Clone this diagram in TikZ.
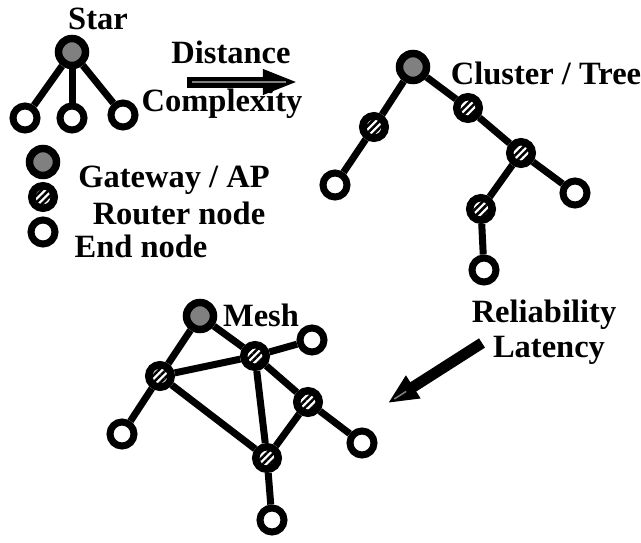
\documentclass[tikz,border=0pt]{standalone}
\usepackage{fontspec}
\setmainfont{Liberation Serif}
\usetikzlibrary{arrows.meta,patterns.meta}
\tikzset{
  gw/.style={circle,draw,line width=1.5mm,fill=gray,minimum size=5.4mm,inner sep=0pt},
  rt/.style={circle,draw,line width=1.5mm,minimum size=4.5mm,inner sep=0pt,
    pattern={Lines[angle=45,distance=1mm,line width=0.5mm]}},
  en/.style={circle,draw,line width=1.4mm,fill=white,minimum size=4.8mm,inner sep=0pt},
  lbl/.style={font=\bfseries\fontsize{18.5}{20}\selectfont,inner sep=0pt},
  link/.style={line width=1.4mm}
}
\begin{document}
\begin{tikzpicture}[x=0.2mm,y=-0.2mm]
  \useasboundingbox (0,0) rectangle (641,543);
  \node[lbl] (tstar) at (98,19) {Star};
  \node[gw] (sg) at (72,52) {};
  \foreach \n/\x/\y in {1/25/118,2/72/118,3/123/115}{
    \node[en] (se\n) at (\x,\y) {};
    \draw[link] (sg) -- (se\n);};
  \node[gw] (lg) at (43,162) {}; \node[lbl] (tlg) at (174,180) {Gateway / AP};
  \node[rt] (lr) at (43,197) {}; \node[lbl] (tlr) at (179,213) {Router node};
  \node[en] (le) at (43,232) {}; \node[lbl] (tle) at (141,246) {End node};
  \node[lbl] (tdist) at (231,52) {Distance};
  \node[lbl] (tcomp) at (222,104) {Complexity};
  \coordinate (d1) at (187,82); \coordinate (d2) at (298,82);
  \draw[line width=2.2mm,-{Triangle[length=7mm,width=4.6mm]}] (d1) -- (d2);
  \draw[gray,line width=0.3mm,shorten <=1mm,shorten >=2.5mm] (d1) -- (d2);
  \node[lbl] (ttree) at (546,73) {Cluster / Tree};
  \node[gw] (tg) at (413,67) {};
  \foreach \n/\x/\y in {1/374/127,2/468/108,3/521/153,4/481/209}
    \node[rt] (tr\n) at (\x,\y) {};
  \foreach \n/\x/\y in {1/335/185,2/575/193,3/484/270}
    \node[en] (te\n) at (\x,\y) {};
  \foreach \a/\b in {tg/tr1,tr1/te1,tg/tr2,tr2/tr3,tr3/te2,tr3/tr4,tr4/te3}
    \draw[link] (\a) -- (\b);
  \node[gw] (mg) at (200,316) {}; \node[lbl] (tmesh) at (261,315) {Mesh};
  \foreach \n/\x/\y in {1/160/376,2/255/356,3/308/402,4/267/458}
    \node[rt] (mr\n) at (\x,\y) {};
  \foreach \n/\x/\y in {1/122/434,2/312/340,3/362/443,4/272/520}
    \node[en] (me\n) at (\x,\y) {};
  \foreach \a/\b in {mg/mr1,mg/mr2,mr1/mr2,mr1/mr4,mr2/mr4,mr2/me2,mr2/mr3,
    mr3/mr4,mr3/me3,mr4/me4,mr1/me1}
    \draw[link] (\a) -- (\b);
  \node[lbl] (trel) at (544,315) {Reliability};
  \node[lbl] (tlat) at (549,350) {Latency};
  \coordinate (r1) at (482,343); \coordinate (r2) at (388,403);
  \draw[line width=2.2mm,-{Triangle[length=6mm,width=5mm]}] (r1) -- (r2);
  \draw[gray,line width=0.3mm,shorten <=18mm,shorten >=1.5mm] (r1) -- (r2);
\end{tikzpicture}
\end{document}
